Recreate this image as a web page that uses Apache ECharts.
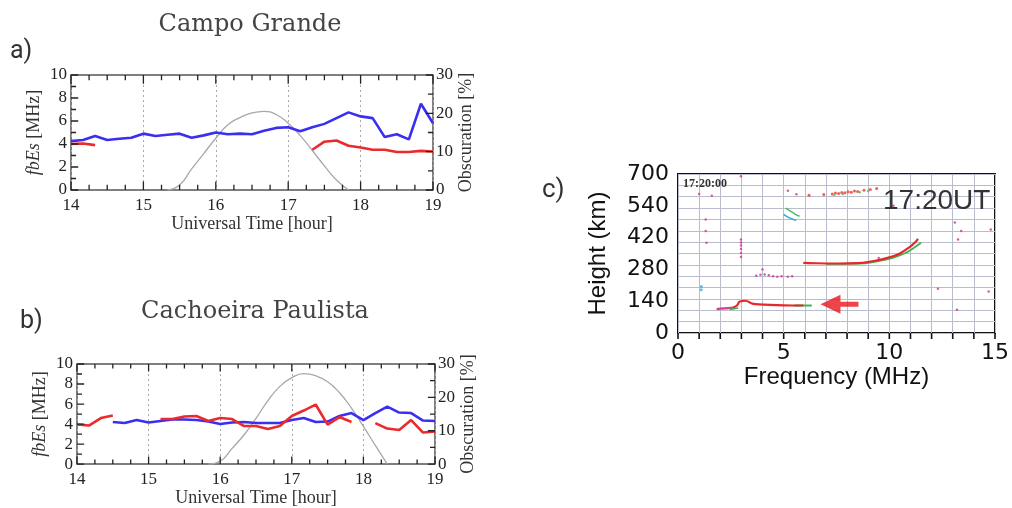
<!DOCTYPE html>
<html><head><meta charset="utf-8">
<script src="https://cdn.jsdelivr.net/npm/echarts/dist/echarts.min.js"></script>
<style>html,body{margin:0;padding:0;background:#fff}#c{width:1012px;height:508px}</style>
</head><body><div id="c"></div>
<script>
// ---------- data ----------
const timeLabels = ['14:00','14:10','14:20','14:30','14:40','14:50','15:00','15:10','15:20','15:30','15:40','15:50',
  '16:00','16:10','16:20','16:30','16:40','16:50','17:00','17:10','17:20','17:30','17:40','17:50',
  '18:00','18:10','18:20','18:30','18:40','18:50','19:00'];
const cgBlue = [4.25,4.35,4.7,4.35,4.45,4.55,4.9,4.7,4.8,4.9,4.55,4.75,5.0,4.85,4.9,4.85,5.15,5.4,5.45,5.1,5.45,5.75,6.25,6.75,6.4,6.25,4.6,4.85,4.4,7.5,5.8];
const cgRed = [4.0,4.05,3.9,null,null,null,null,null,null,null,null,null,null,null,null,null,null,null,null,null,3.5,4.2,4.3,3.85,3.7,3.5,3.5,3.3,3.3,3.4,3.35];
const cgObscTimes = ['15:20','15:30','15:40','15:50','16:00','16:10','16:20','16:30','16:40','16:50','17:00','17:10','17:20','17:30','17:40','17:50'];
const cgObsc = [0,1.3,5.5,9.5,13.5,17.0,18.9,20.1,20.5,19.7,17.4,14.2,10.3,6.3,2.6,0];
const cpBlue = [null,null,null,4.2,4.1,4.4,4.15,4.3,4.45,4.45,4.4,4.25,4.0,4.15,4.2,4.1,4.1,4.1,4.4,4.6,4.2,4.25,4.8,5.1,4.4,5.1,5.75,5.15,5.1,4.35,4.3];
const cpRed = [3.95,3.85,4.6,4.85,null,null,null,4.5,4.5,4.75,4.8,4.3,4.6,4.5,3.8,3.8,3.5,3.8,4.8,5.35,5.95,3.95,4.7,4.2,null,4.1,3.55,3.4,4.4,3.15,3.25];
const cpObscTimes = ['15:50','16:00','16:10','16:20','16:30','16:40','16:50','17:00','17:10','17:20','17:30','17:40','17:50','18:00','18:10','18:20'];
const cpObsc = [0,0.9,4.7,8.8,13.7,19.0,23.3,25.9,27.1,26.5,24.7,21.4,16.8,11.3,5.6,0];
const heightTickValues = [0,140,280,420,560,700];
const heightTickLabels = ['0','140','280','420','540','700'];
const freqTickLabels = ['0','5','10','15'];
const esPink = [[1.83,105],[2.2,108],[2.6,112]];
const esRed = [[2.6,112],[2.8,122],[2.93,139],[3.17,142],[3.56,128],[4.35,124],[5.0,122],[5.93,121]];
const esGreenLow = [[2.45,104],[2.85,110]];
const esGreenTail = [[5.5,121],[6.33,121]];
const fRed = [[5.93,309],[6.5,307],[7.6,306],[8.5,308],[9.2,316],[9.7,325],[10.16,338],[10.5,350],[10.8,368],[11.05,385],[11.27,404],[11.35,415]];
const fGreen = [[7.0,304],[8.5,305],[9.5,317],[10.2,332],[10.8,354],[11.2,377],[11.5,397]];
const arcGreen = [[5.1,550],[5.3,538],[5.5,526],[5.75,514]];
const arcCyan = [[5.0,522],[5.2,510],[5.4,502],[5.6,496]];
const upperRed = [[6.2,606],[6.9,610],[7.3,612],[7.45,616],[7.6,614],[7.75,619],[7.9,617],[8.05,622],[8.2,620],[8.35,625],[8.5,623],[8.8,628],[9.1,632],[9.4,636]];
const upperGreen = [[7.4,609],[7.8,612],[8.6,620],[9.0,625]];
const noisePink = [[1.0,612],[1.6,604],[1.31,500],[1.31,449],[1.35,397],[2.98,690],[2.98,412],[2.98,398],[2.98,385],[2.98,370],[2.98,352],[2.98,335],
  [3.7,252],[3.9,256],[4.1,258],[4.3,254],[4.5,250],[4.7,248],[4.9,250],[5.2,248],[5.4,250],[4.0,280],[5.2,626],[5.6,611],
  [13.1,487],[13.4,449],[13.25,412],[13.2,102],[14.8,456],[14.7,183],[9.5,330],[12.3,195],[10.2,560]];
const noiseCyan = [[1.1,205],[1.1,190]];
const arrowAt = [[7.64,127]];

const hr = s => { const p = s.split(':').map(Number); return p[0] + p[1] / 60; };
const zip = (ts, vs) => ts.map((t, i) => [hr(t), vs[i]]);
const serif = '"Liberation Serif", "Times New Roman", serif';
const sans = '"Liberation Sans", Arial, sans-serif';
const BLUE = '#3a2ef0', RED = '#ea2a2c', GRAY = '#a8a8a8';
const TK = '#222';

function utAxis(gi) {
  return {
    type: 'value', gridIndex: gi, position: 'bottom', min: 14, max: 19, interval: 1,
    axisLine: { show: false }, axisTick: { show: false }, minorTick: { show: false },
    axisLabel: { margin: 7, fontFamily: serif, fontSize: 17, color: '#222' },
    splitLine: { show: true, lineStyle: { color: '#a9a9a9', type: [2, 3], width: 1 } },
    name: 'Universal Time [hour]', nameLocation: 'middle', nameGap: 24,
    nameTextStyle: { fontFamily: serif, fontSize: 18, color: '#333' }
  };
}
function fAxis(gi) {
  return {
    type: 'value', gridIndex: gi, position: 'left', min: 0, max: 10, interval: 2,
    axisLine: { show: false }, axisTick: { show: false }, minorTick: { show: false },
    axisLabel: { margin: 4, fontFamily: serif, fontSize: 17, color: '#222' },
    splitLine: { show: false },
    name: '{it|fbEs} [MHz]', nameLocation: 'middle', nameGap: 28,
    nameTextStyle: { fontFamily: serif, fontSize: 18, color: '#333',
      rich: { it: { fontStyle: 'italic', fontFamily: serif, fontSize: 18, color: '#333' } } }
  };
}
function oAxis(gi) {
  return {
    type: 'value', gridIndex: gi, position: 'right', min: 0, max: 30, interval: 10,
    axisLine: { show: false }, axisTick: { show: false }, minorTick: { show: false },
    axisLabel: { margin: 3, fontFamily: serif, fontSize: 17, color: '#222' },
    splitLine: { show: false },
    name: 'Obscuration [%]', nameLocation: 'middle', nameGap: 24, nameRotate: 90,
    nameTextStyle: { fontFamily: serif, fontSize: 18, color: '#333' }
  };
}
function line(name, xi, yi, data, color, width, smooth) {
  return { name, type: 'line', xAxisIndex: xi, yAxisIndex: yi, data, symbol: 'none',
    smooth: !!smooth, connectNulls: false, lineStyle: { color, width }, itemStyle: { color }, z: 3 };
}
function dots(name, data, color, size) {
  return { name, type: 'scatter', xAxisIndex: 2, yAxisIndex: 4, data, symbolSize: size,
    itemStyle: { color, opacity: 0.85 }, z: 3 };
}
function steps(a, b, st) { const r = []; for (let v = a; v <= b + 1e-9; v += st) r.push(+v.toFixed(4)); return r; }
// tick marks: a line series of separate segments (null breaks), each from an axis value on the frame inward
function tickLines(xi, yi, segs, color, width) {
  const data = [];
  segs.forEach(s => { data.push(s[0], s[1], null); });
  return { type: 'line', xAxisIndex: xi, yAxisIndex: yi, data, symbol: 'none', connectNulls: false,
    clip: false, silent: true, z: 6, lineStyle: { color, width }, itemStyle: { color } };
}
function panelTicks(xi, yi, yi2) {
  const isInt = v => Math.abs(v - Math.round(v)) < 1e-6;
  const xt = steps(14, 19, 0.25);
  const dyMaj = 0.75, dyMin = 0.45;            // tick length in fbEs units (grid height ~11 px per unit)
  const dxMaj = 0.1, dxMin = 0.07;             // tick length in hours (~72 px per hour)
  const segs = [];
  xt.forEach(v => { const d = isInt(v) ? dyMaj : dyMin;
    segs.push([[v, 0], [v, d]]); segs.push([[v, 10], [v, 10 - d]]); });
  steps(0, 10, 1).forEach(v => { const d = v % 2 === 0 ? dxMaj : dxMin; segs.push([[14, v], [14 + d, v]]); });
  const rs = steps(0, 30, 5).map(v => { const d = v % 10 === 0 ? dxMaj : dxMin; return [[19, v], [19 - d, v]]; });
  return [tickLines(xi, yi, segs, TK, 1.3), tickLines(xi, yi2, rs, TK, 1.3)];
}
const gridBox = { show: true, borderColor: '#555', borderWidth: 1.5, backgroundColor: 'transparent' };
const ionSegs = steps(0, 15, 1).map(v => [[v, 0], [v, -26]])
  .concat(steps(0, 700, 70).map(v => [[0, v], [-0.33, v]]));

const option = {
  animation: false,
  backgroundColor: '#fff',
  grid: [
    Object.assign({ left: 71, top: 75, width: 362, height: 115 }, gridBox),
    Object.assign({ left: 77, top: 364, width: 358, height: 106 }, gridBox),
    { show: true, left: 678, top: 174, width: 317, height: 159, borderColor: '#111', borderWidth: 2, backgroundColor: 'transparent' }
  ],
  xAxis: [
    utAxis(0), utAxis(1),
    { type: 'value', gridIndex: 2, position: 'bottom', min: 0, max: 15, interval: 1,
      axisLine: { show: false }, axisTick: { show: false },
      axisLabel: { margin: 9, fontFamily: '"DejaVu Sans", sans-serif', fontSize: 22, color: '#111',
        formatter: v => { const i = freqTickLabels.indexOf(String(v)); return i >= 0 ? freqTickLabels[i] : ''; } },
      splitLine: { show: true, lineStyle: { color: '#b9bccd', width: 1 } },
      name: 'Frequency (MHz)', nameLocation: 'middle', nameGap: 28,
      nameTextStyle: { fontFamily: sans, fontSize: 24, color: '#111' } }
  ],
  yAxis: [
    fAxis(0), oAxis(0), fAxis(1), oAxis(1),
    { type: 'value', gridIndex: 2, position: 'left', min: 0, max: 700, interval: 70,
      axisLine: { show: false }, axisTick: { show: false },
      axisLabel: { margin: 9, fontFamily: '"DejaVu Sans", sans-serif', fontSize: 22, color: '#111',
        formatter: v => { const i = heightTickValues.indexOf(v); return i >= 0 ? heightTickLabels[i] : ''; } },
      splitLine: { show: false },
      name: 'Height (km)', nameLocation: 'middle', nameGap: 68,
      nameTextStyle: { fontFamily: sans, fontSize: 24, color: '#111' } },
    { type: 'value', gridIndex: 2, position: 'left', min: 0, max: 700, interval: 50,
      axisLine: { show: false }, axisTick: { show: false }, axisLabel: { show: false },
      splitLine: { show: true, lineStyle: { color: '#b9bccd', width: 1 } } }
  ],
  series: [
    line('CG obscuration', 0, 1, zip(cgObscTimes, cgObsc), GRAY, 1.3, true),
    line('CG blue', 0, 0, zip(timeLabels, cgBlue), BLUE, 2.6),
    line('CG red', 0, 0, zip(timeLabels, cgRed), RED, 2.6),
    line('CP obscuration', 1, 3, zip(cpObscTimes, cpObsc), GRAY, 1.3, true),
    line('CP blue', 1, 2, zip(timeLabels, cpBlue), BLUE, 2.6),
    line('CP red', 1, 2, zip(timeLabels, cpRed), RED, 2.6),
    ...panelTicks(0, 0, 1),
    ...panelTicks(1, 2, 3),
    tickLines(2, 4, ionSegs, '#111', 1.6),
    line('Es pink', 2, 4, esPink, '#e0358f', 2.2, true),
    line('Es green low', 2, 4, esGreenLow, '#3cb44a', 1.6, true),
    line('Es green tail', 2, 4, esGreenTail, '#3cb44a', 2, true),
    line('Es red', 2, 4, esRed, '#e8262c', 2.2, true),
    line('F green', 2, 4, fGreen, '#3cb44a', 1.8, true),
    line('F red', 2, 4, fRed, '#e8262c', 2.2, true),
    line('arc green', 2, 4, arcGreen, '#48b860', 1.4, true),
    line('arc cyan', 2, 4, arcCyan, '#35a8dd', 1.6, true),
    dots('upper red', upperRed, '#e8463c', 3),
    dots('upper green', upperGreen, '#55b855', 2.5),
    dots('noise pink', noisePink, '#d0409a', 2.5),
    dots('noise cyan', noiseCyan, '#4ab0e0', 3),
    { name: 'arrow', type: 'scatter', xAxisIndex: 2, yAxisIndex: 4, data: arrowAt,
      symbol: 'path://M0,9.5 L20,0 L20,7 L38,7 L38,12 L20,12 L20,19 Z', symbolSize: [38, 19],
      symbolKeepAspect: false, itemStyle: { color: '#e8141c' }, z: 5 }
  ],
  graphic: [
    { type: 'text', x: 250, y: 25, style: { text: 'Campo Grande', font: '24px "DejaVu Serif", serif', fill: '#444', align: 'center', verticalAlign: 'middle' } },
    { type: 'text', x: 10, y: 52, style: { text: 'a)', font: '25px Roboto, sans-serif', fill: '#333', align: 'left', verticalAlign: 'middle' } },
    { type: 'text', x: 255, y: 312, style: { text: 'Cachoeira Paulista', font: '24px "DejaVu Serif", serif', fill: '#444', align: 'center', verticalAlign: 'middle' } },
    { type: 'text', x: 20, y: 322, style: { text: 'b)', font: '25px Roboto, sans-serif', fill: '#333', align: 'left', verticalAlign: 'middle' } },
    { type: 'text', x: 542, y: 190, style: { text: 'c)', font: '26px Roboto, sans-serif', fill: '#333', align: 'left', verticalAlign: 'middle' } },
    { type: 'text', x: 883, y: 201, z: 10, style: { text: '17:20UT', font: '28px "Liberation Sans", Arial, sans-serif', fill: '#333', align: 'left', verticalAlign: 'middle' } },
    { type: 'text', x: 683, y: 184, z: 10, style: { text: '17:20:00', font: 'bold 12px "Liberation Serif", serif', fill: '#333', align: 'left', verticalAlign: 'middle' } }
  ]
};
const chart = echarts.init(document.getElementById('c'), null, { renderer: 'canvas' });
chart.setOption(option);
</script>
</body></html>
